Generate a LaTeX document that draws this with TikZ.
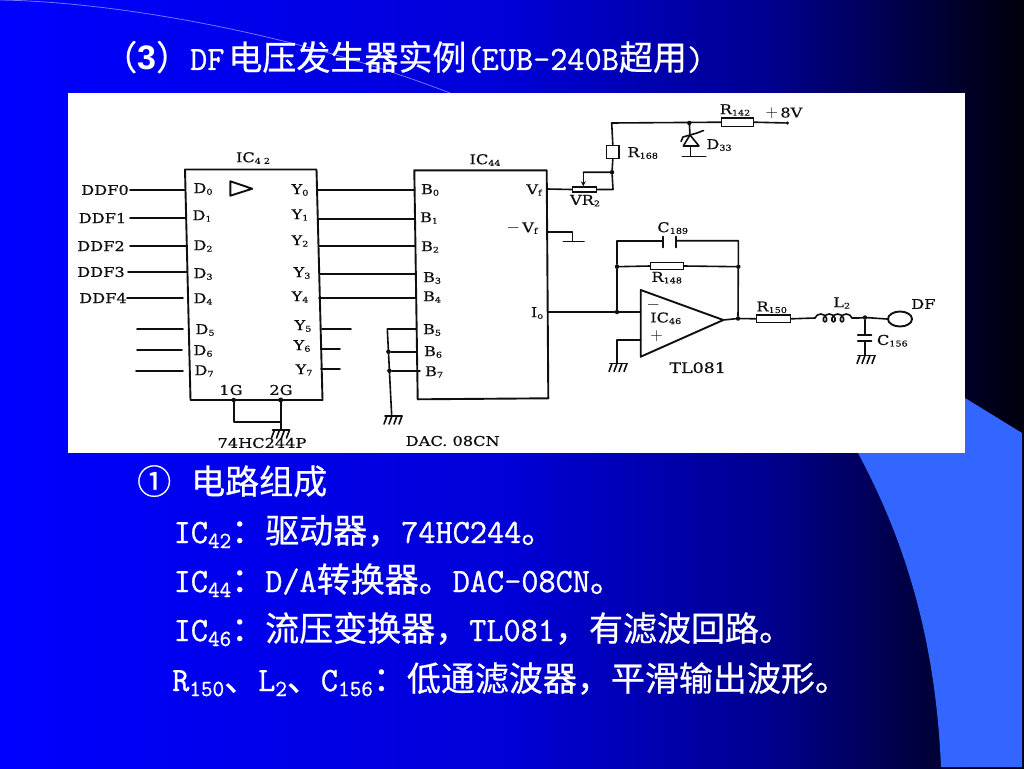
\documentclass[tikz,border=0pt]{standalone}
\usepackage{fontspec}
\usetikzlibrary{arrows.meta,decorations.pathmorphing,calc,shapes.geometric}
\setmainfont{Liberation Serif}
\newfontfamily\cjk[FakeBold=0.6]{Noto Sans CJK SC}
\newfontfamily\lat[FakeStretch=0.98,FakeBold=0.9]{Latin Modern Mono}
\newfontfamily\sch[FakeStretch=1.2,FakeBold=0.5]{DejaVu Serif}
\newfontfamily\arialb{Liberation Sans}
\newcommand\Z[1]{{\cjk #1}}
\newcommand\bsub[1]{\raisebox{-5pt}{\fontsize{23}{23}\selectfont\lat #1}}
\newcommand\ls[1]{\raisebox{-1.6pt}{\fontsize{8}{8}\selectfont #1}}
\newcommand\bigsym[1]{{\fontsize{17}{17}\selectfont$#1$}}
\pgfdeclarehorizontalshading{bgshade}{100bp}{rgb(0bp)=(0,0,1); rgb(25bp)=(0,0,1); rgb(50bp)=(0,0,.84); rgb(62.5bp)=(0,0,.56); rgb(71bp)=(0,0,.2); rgb(75bp)=(0,0,.04); rgb(100bp)=(0,0,.04)}
\definecolor{band}{RGB}{51,102,255}
\definecolor{ink}{RGB}{15,15,15}
\tikzset{
  x=1pt,y=-1pt,
  wire/.style={draw=ink,line width=1.6pt,line cap=round,line join=round},
  chip/.style={draw=ink,line width=1.9pt,line join=round},
  res/.style={draw=ink,line width=1.5pt,fill=white,inner sep=0pt,rectangle},
  dotj/.style={circle,fill=ink,inner sep=0pt,minimum size=4.5pt},
  lab/.style={inner sep=0pt,text=ink,font=\sch\fontsize{13.5}{15}\selectfont},
  body/.style={inner sep=0pt,text=white,anchor=base west,font=\lat\fontsize{34}{40}\selectfont},
  gnd/.pic={
    \draw[wire] (-8,0) -- (9,0);
    \foreach \k in {-6,-1,4,9} \draw[wire] (\k,0) -- (\k-3,8);
  }
}
\begin{document}
\begin{tikzpicture}
\useasboundingbox (0,0) rectangle (1024,768);
\clip (0,0) rectangle (1024,768);
% background
\shade[shading=bgshade] (0,0) rectangle (1024,768);
\fill[band] (965,398) -- (1022,433) -- (1022,767) -- (941,767)
  .. controls (936,650) and (910,550) .. (858,453) -- (858,398) -- cycle;
\draw[blue!55!white,line width=.8pt] (0,0) .. controls (120,2) and (300,35) .. (450,93);
\fill[white] (68,93) rectangle (965,453);
% title
\node[body] (title) at (103,70) {\Z{（}{\arialb\bfseries 3}\Z{）}DF\hspace{4pt}\Z{电压发生器实例}(\hspace{-2pt}EUB-240B\Z{超用})};
% body text
\node[body] (l1) at (137,494) {\Z{①}\hspace{20pt}\Z{电路组成}};
\node[body] (l2) at (173.5,543) {IC\bsub{42}\Z{：驱动器，}74HC244\Z{。}};
\node[body] (l3) at (173.5,592) {IC\bsub{44}\Z{：}D/A\Z{转换器。}DAC-08CN\Z{。}};
\node[body] (l4) at (173.5,641) {IC\bsub{46}\Z{：流压变换器，}TL081\Z{，有滤波回路。}};
\node[body] (l5) at (172,691) {R\bsub{150}\Z{、}L\bsub{2}\Z{、}C\bsub{156}\Z{：低通滤波器，平滑输出波形。}};
% IC42 box
\coordinate (a1) at (185,169.5); \coordinate (a2) at (316.5,169.5);
\coordinate (a3) at (322.5,400); \coordinate (a4) at (190.5,400);
\draw[chip] (a1) -- (a2) -- (a3) -- (a4) -- cycle;
\node[lab] (ic42) at (253,158) {IC\ls{4 2}};
\coordinate (t1) at (230.3,181.3); \coordinate (t2) at (230.3,195.7); \coordinate (t3) at (252.3,188.7);
\draw[wire,line width=1.9pt] (t1) -- (t3) -- (t2) -- cycle;
% inputs
\foreach \n/\lx/\y/\wa/\wb in {0/105/190/130/185,1/102.5/218/130/185.5,2/101/246/130/186.5,3/101/272/128/187,4/103/298/127/183}{
  \node[lab] (ddf\n) at (\lx,\y) {DDF\n};
  \coordinate (ia\n) at (\wa,\y); \coordinate (ib\n) at (\wb,\y);
  \draw[wire] (ia\n) -- (ib\n);
}
\foreach \n/\y/\wa/\wb in {5/329/137/183,6/350/137/182,7/371/136/183}{
  \coordinate (ia\n) at (\wa,\y); \coordinate (ib\n) at (\wb,\y);
  \draw[wire] (ia\n) -- (ib\n);
}
\foreach \n/\x/\y in {0/203/189,1/202/216,2/203/246,3/203/274,4/203/299,5/205/330,6/203/351,7/204/371}{
  \node[lab] (dl\n) at (\x,\y) {D\ls{\n}};
}
\foreach \n/\x/\y in {0/300/190,1/300/215,2/300/241,3/302/273,4/300/297,5/303/326,6/302/346,7/304/370}{
  \node[lab] (yl\n) at (\x,\y) {Y\ls{\n}};
}
% IC44 box
\coordinate (b1) at (414.3,170.3); \coordinate (b2) at (546.7,170.3);
\coordinate (b3) at (548.3,398.3); \coordinate (b4) at (417.7,399.3);
\draw[chip] (b1) -- (b2) -- (b3) -- (b4) -- cycle;
\node[lab] (ic44) at (485,160) {IC\ls{44}};
\foreach \n/\x/\y in {0/430/190,1/429/218,2/430/247,3/432/278,4/432/297,5/432/330,6/433/352,7/434/372}{
  \node[lab] (bl\n) at (\x,\y) {B\ls{\n}};
}
% outputs
\foreach \n/\xa/\y/\xb in {0/317/190/414.5,1/317.5/219/415,2/318.5/246/415,3/319.5/274/415.5,4/319/298/415.5,5/322/329/351,6/321/349/340,7/321/369/340}{
  \coordinate (oa\n) at (\xa,\y); \coordinate (ob\n) at (\xb,\y);
  \draw[wire] (oa\n) -- (ob\n);
}
% enable pins
\node[lab] (g1) at (231,390) {1G};
\node[lab] (g2) at (281,390) {2G};
\coordinate (p1) at (233.7,400); \coordinate (p2) at (280.7,400);
\coordinate (p1b) at (233.7,421.7); \coordinate (p2b) at (280.7,421.7); \coordinate (p2g) at (280.7,430);
\node[dotj,minimum size=4.5pt] (pd1) at (p1) {};
\node[dotj,minimum size=5pt] (pd2) at (p2) {};
\draw[wire] (p1) -- (p1b) -- (p2b);
\draw[wire] (p2) -- (p2g);
\pic (gnd1) at (280.5,430) {gnd};
\node[lab] (hc) at (262,443) {74HC244P};
\node[lab] (dac) at (452.7,441) {DAC. 08CN};
% B5..B7 ground rail
\coordinate (r5) at (387.3,329); \coordinate (c5) at (416,329);
\node[dotj] (r6) at (388.4,351.7) {}; \coordinate (c6) at (416.7,351.7);
\node[dotj] (r7) at (389.4,370.8) {}; \coordinate (c7) at (420,370.8);
\coordinate (rg) at (391.7,416);
\draw[wire] (c5) -- (r5) -- (rg);
\draw[wire] (r6) -- (c6);
\draw[wire] (r7) -- (c7);
\pic (gnd2) at (393,416) {gnd};
% Vf, pot, R168
\node[lab] (vf) at (534,190) {V\ls{f}};
\coordinate (vfw) at (547,189);
\node[res,minimum width=24.4pt,minimum height=5pt] (pot) at (584.5,189.5) {};
\coordinate (pr) at (613,189.5);
\node[dotj] (jw) at (612,172.2) {};
\node[res,minimum width=12.3pt,minimum height=13.4pt] (r168) at (612.8,152) {};
\coordinate (topc) at (611.7,123);
\coordinate (wip) at (583.3,172.3);
\draw[wire] (vfw) -- (pot.west);
\draw[wire] (pot.east) -- (pr) -- (jw) -- (r168.south);
\draw[wire] (r168.north) -- (topc);
\draw[wire] (jw) -- (wip);
\draw[wire,-{Stealth[length=5pt,width=5pt]}] (wip) -- (pot.north -| wip);
\node[lab] (vr2) at (585,200.7) {VR\ls{2}};
\node[lab] (r168l) at (642.7,153) {R\ls{168}};
% top rail
\node[dotj] (jz) at (689.3,123) {};
\node[res,minimum width=31.6pt,minimum height=8.3pt] (r142) at (737.5,122.2) {};
\node[dotj,minimum size=3.5pt] (p8) at (787.3,123) {};
\draw[wire] (topc) -- (r142.west);
\draw[wire] (r142.east) -- (p8);
\node[lab] (r142l) at (735,110) {R\ls{142}};
\node[lab] (v8) at (784,113) {\bigsym{+}\,8V};
% zener
\coordinate (zt) at (690,135); \coordinate (zb1) at (683.3,146); \coordinate (zb2) at (699,146);
\coordinate (zc) at (690.5,146); \coordinate (zg) at (690.5,156.3);
\coordinate (za) at (681,141.5); \coordinate (zd) at (703.5,130.5);
\coordinate (zg1) at (682.3,156.3); \coordinate (zg2) at (705.7,156.3);
\draw[wire] (jz) -- (zt);
\draw[wire] (zt) -- (zb1) -- (zb2) -- cycle;
\draw[wire] (za) -- (683,137) -- (697,133) -- (zd);
\draw[wire] (zc) -- (zg);
\draw[wire] (zg1) -- (zg2);
\node[lab] (d33) at (719,145) {D\ls{33}};
% -Vf
\node[lab] (mvf) at (522,228) {\bigsym{-}\,V\ls{f}};
\coordinate (m1) at (547,232); \coordinate (m2) at (572.3,232); \coordinate (m3) at (572.3,241.3);
\coordinate (m4) at (563.3,241.3); \coordinate (m5) at (584,241.3);
\draw[wire] (m1) -- (m2) -- (m3);
\draw[wire] (m4) -- (m5);
% Io, feedback
\node[lab] (io) at (537,313) {I\ls{o}};
\coordinate (iow) at (548,312);
\coordinate (opm) at (640.7,312);
\node[dotj] (jio) at (617,312) {};
\node[dotj] (jf1) at (617,266.7) {};
\node[dotj] (jf2) at (738.3,266.7) {};
\node[dotj] (jo) at (738,318.5) {};
\coordinate (cl) at (617,240.7); \coordinate (cr) at (738.3,240.7);
\coordinate (cp1) at (663.3,240.7); \coordinate (cp2) at (676,240.7);
\draw[wire] (iow) -- (opm);
\draw[wire] (jio) -- (jf1) -- (cl) -- (cp1);
\draw[wire] (cp2) -- (cr) -- (jf2) -- (jo);
\draw[wire,line width=1.9pt] (663.3,236.5) -- (cp1) -- (663.3,247.5);
\draw[wire,line width=1.9pt] (676,236.5) -- (cp2) -- (676,247.5);
\node[res,minimum width=32.6pt,minimum height=6.6pt] (r148) at (667,266) {};
\draw[wire] (jf1) -- (r148.west);
\draw[wire] (r148.east) -- (jf2);
\node[lab] (c189l) at (672.7,228) {C\ls{189}};
\node[lab] (r148l) at (666.7,277.7) {R\ls{148}};
% op amp
\coordinate (oa) at (640.7,290); \coordinate (ob) at (640.7,356.7); \coordinate (oc) at (723.3,320);
\draw[chip] (oa) -- (oc) -- (ob) -- cycle;
\node[lab] (minus) at (653.3,305) {\bigsym{-}};
\node[lab] (ic46) at (665.7,318.3) {IC\ls{46}};
\node[lab] (plus) at (656.7,336) {\bigsym{+}};
\coordinate (o1) at (640.7,340); \coordinate (o2) at (616.7,340); \coordinate (o3) at (616.7,363);
\draw[wire] (o1) -- (o2) -- (o3);
\pic (gnd3) at (618,363.5) {gnd};
\node[lab,font=\sch\fontsize{14.5}{16}\selectfont] (tl) at (697.7,367.7) {TL081};
% output chain
\node[res,minimum width=34pt,minimum height=7.7pt] (r150) at (773.7,318.8) {};
\coordinate (l2a) at (815,318); \coordinate (l2b) at (858.5,318);
\node[dotj] (jc) at (865,317.5) {};
\node[draw=ink,line width=1.9pt,ellipse,fill=white,inner sep=0pt,minimum width=24pt,minimum height=15pt] (df) at (900,319) {};
\draw[wire] (oc) -- (jo) -- (r150.west);
\draw[wire] (r150.east) -- (l2a);
\draw[wire,decorate,decoration={coil,aspect=.9,segment length=8.5pt,amplitude=4pt}] (l2a) -- (l2b);
\draw[wire] (l2b) -- (jc) -- (df.west);
\coordinate (ct) at (865,335); \coordinate (cb) at (865,341); \coordinate (cg) at (865,355);
\draw[wire] (jc) -- (ct);
\draw[wire] (857.7,335) -- (871.5,335);
\draw[wire] (857.7,341) -- (871.5,341);
\draw[wire] (cb) -- (cg);
\pic (gnd4) at (866,355.5) {gnd};
\node[lab] (c156l) at (892.3,340.7) {C\ls{156}};
\node[lab] (l2l) at (841.7,303) {L\ls{2}};
\node[lab] (dfl) at (923.3,304) {DF};
\node[lab] (r150l) at (771.7,307.3) {R\ls{150}};
\end{tikzpicture}
\end{document}
